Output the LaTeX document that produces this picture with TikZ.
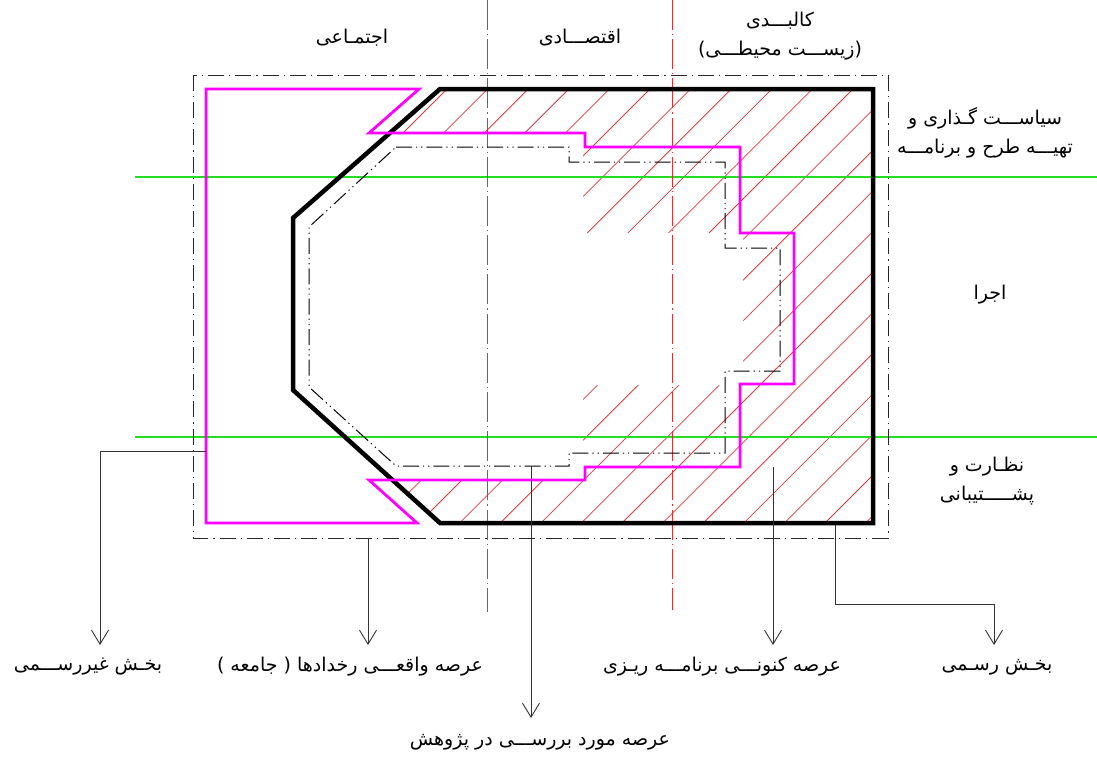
\documentclass[tikz,border=0pt]{standalone}
\usepackage{fontspec}
\newfontfamily\arabicfont[Script=Arabic]{DejaVu Sans}
\TeXXeTstate=1
\usetikzlibrary{arrows.meta}
\definecolor{mag}{HTML}{FF00FF}
\definecolor{hatchred}{HTML}{E23A3A}
\definecolor{axisred}{HTML}{E03030}
\definecolor{bandgreen}{HTML}{22DD22}
\tikzset{
 fa/.style={font=\arabicfont\fontsize{19}{29}\selectfont, inner sep=0pt, align=center},
 frame/.style={draw=black!85, line width=0.9pt, dash pattern=on 16pt off 5pt on 1.2pt off 5pt},
 core/.style={draw=black, line width=4.5pt, line join=miter},
 informal/.style={draw=mag, line width=2.8pt, line join=miter},
 study/.style={draw=black, line width=1pt, dash pattern=on 16pt off 4pt on 1.2pt off 4pt on 1.2pt off 4pt},
 axisline/.style={draw=axisred, line width=0.8pt, dash pattern=on 30pt off 4pt on 1.2pt off 4pt},
 band/.style={draw=bandgreen, line width=1.2pt},
 leader/.style={draw=black!80, line width=0.9pt, -{Straight Barb[length=14pt,width=17pt,line width=0.9pt]}},
 hatchline/.style={draw=hatchred, line width=0.8pt}
}
\begin{document}
\begin{tikzpicture}[x=1pt,y=-1pt]
\useasboundingbox (0,0) rectangle (1097,756);
% hatching
\begin{scope}
\clip (440,89) -- (873,89) -- (873,523) -- (440,523) -- (293,390) -- (293,218) -- cycle;
\foreach \k in {-1,...,22} {
  \pgfmathsetmacro\c{536+40.6*\k}
  \draw[hatchline] ({\c-545},545) -- ({\c-80},80);
}
\end{scope}
\fill[white] (285,133) -- (583,133) -- (583,233) -- (743,233) -- (743,385) -- (583,385) -- (583,480) -- (285,480) -- cycle;
% guide lines
\draw[band] (135,177) -- (1097,177);
\draw[band] (135,437) -- (1097,437);
\draw[axisline] (487,0) -- (487,612);
\draw[axisline] (672,0) -- (672,610);
% outer frame
\draw[frame] (193,75) rectangle (888,538);
% study area
\draw[study] (396,147) -- (569,147) -- (569,162) -- (725,162) -- (725,248) -- (780,248) -- (780,371) -- (725,371) -- (725,453) -- (569,453) -- (569,466) -- (396,466) -- (309,387) -- (309,227) -- cycle;
% core (formal)
\draw[core] (440,89) -- (873,89) -- (873,523) -- (440,523) -- (293,390) -- (293,218) -- cycle;
% informal
\draw[informal] (206,89) -- (419,89) -- (369,133) -- (585,133) -- (585,147) -- (740,147) -- (740,233) -- (794,233) -- (794,384) -- (740,384) -- (740,467) -- (585,467) -- (585,480) -- (369,480) -- (417,523) -- (206,523) -- cycle;
% labels top
\node[fa] (soc) at (352,38) {\beginR اجتمـاعی\endR};
\node[fa] (eco) at (580,38) {\beginR اقتصـــادی\endR};
\node[fa] (phy) at (780,36) {\beginR کالبـــدی\endR\\\beginR (زیســـت محیطـــی)\endR};
% labels right
\node[fa] (pol) at (985,133) {\beginR سیاســـت گـذاری و\endR\\\beginR تهیـــه طرح و برنامـــه\endR};
\node[fa] (exe) at (990,295) {\beginR اجرا\endR};
\node[fa] (sup) at (987,481) {\beginR نظـارت و\endR\\\beginR پشـــــتیبانی\endR};
% bottom labels
\node[fa] (lInf) at (88,667) {\beginR بخـش غیررســـمی\endR};
\node[fa] (lReal) at (350,667) {\beginR عرصه واقعـــی رخدادها ( جامعه )\endR};
\node[fa] (lStudy) at (540,742) {\beginR عرصه مورد بررســـی در پژوهش\endR};
\node[fa] (lPlan) at (722,667) {\beginR عرصه کنونـــی برنامـــه ریـزی\endR};
\node[fa] (lForm) at (997,667) {\beginR بخـش رسـمی\endR};
% leader coordinates
\coordinate (s1) at (206,451); \coordinate (k1) at (100,451); \coordinate (t1) at (100,645);
\coordinate (s2) at (368,538); \coordinate (t2) at (368,645);
\coordinate (s3) at (531,466); \coordinate (t3) at (531,718);
\coordinate (s4) at (773,467); \coordinate (t4) at (773,645);
\coordinate (s5) at (835,525); \coordinate (k5a) at (835,604); \coordinate (k5b) at (994,604); \coordinate (t5) at (994,645);
\draw[leader] (s1) -- (k1) -- (t1);
\draw[leader] (s2) -- (t2);
\draw[leader] (s3) -- (t3);
\draw[leader] (s4) -- (t4);
\draw[leader] (s5) -- (k5a) -- (k5b) -- (t5);
\end{tikzpicture}
\end{document}
